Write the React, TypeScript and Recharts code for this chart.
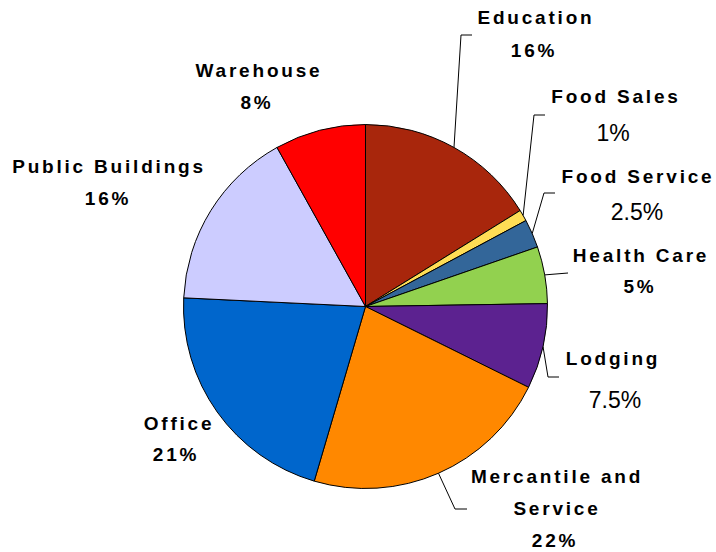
import { PieChart, Pie, Cell } from "recharts";

const categories = [
    "Education",
    "Food Sales",
    "Food Service",
    "Health Care",
    "Lodging",
    "Mercantile and Service",
    "Office",
    "Public Buildings",
    "Warehouse",
];

const shares = [16, 1, 2.5, 5, 7.5, 22, 21, 16, 8];

const pctLabels = ["16%", "1%", "2.5%", "5%", "7.5%", "22%", "21%", "16%", "8%"];

const COLORS = [
    "#A8260C", // Education
    "#FFDD55", // Food Sales
    "#336699", // Food Service
    "#92D14F", // Health Care
    "#5C2290", // Lodging
    "#FF8800", // Mercantile and Service
    "#0066CC", // Office
    "#CCCCFF", // Public Buildings
    "#FF0000", // Warehouse
];

const data = categories.map((name, i) => ({ name, value: shares[i] }));

// label layout: text lines (x center, baseline y), whether the % is bold, leader elbow
type Layout = {
    lines: { text: string; x: number; y: number }[];
    pct: { x: number; y: number; bold: boolean };
    leader?: number[][];
};

const LAYOUT: Layout[] = [
    { lines: [{ text: "Education", x: 536, y: 24 }], pct: { x: 534, y: 57, bold: true }, leader: [[461, 35], [472, 35]] },
    { lines: [{ text: "Food Sales", x: 616, y: 103 }], pct: { x: 613, y: 141, bold: false }, leader: [[534, 115], [545, 115]] },
    { lines: [{ text: "Food Service", x: 638, y: 183 }], pct: { x: 637, y: 220, bold: false }, leader: [[544, 193], [555, 193]] },
    { lines: [{ text: "Health Care", x: 641, y: 262 }], pct: { x: 640, y: 293, bold: true }, leader: [[568, 273]] },
    { lines: [{ text: "Lodging", x: 613, y: 365 }], pct: { x: 615, y: 408, bold: false }, leader: [[548, 377], [559, 377]] },
    {
        lines: [
            { text: "Mercantile and", x: 557, y: 483 },
            { text: "Service", x: 557, y: 515 },
        ],
        pct: { x: 555, y: 547, bold: true },
        leader: [[455, 509], [467, 509]],
    },
    { lines: [{ text: "Office", x: 179, y: 430 }], pct: { x: 176, y: 461, bold: true } },
    { lines: [{ text: "Public Buildings", x: 109, y: 173 }], pct: { x: 108, y: 205, bold: true } },
    { lines: [{ text: "Warehouse", x: 259, y: 77 }], pct: { x: 257, y: 109, bold: true } },
];

const FONT = "'Liberation Sans', Arial, sans-serif";

const renderLabel = (props: any) => {
    const { cx, cy, midAngle, outerRadius, index } = props;
    const RADIAN = Math.PI / 180;
    const layout = LAYOUT[index];
    const ax = cx + outerRadius * Math.cos(-midAngle * RADIAN);
    const ay = cy + outerRadius * Math.sin(-midAngle * RADIAN);
    const pts = layout.leader ? [[ax, ay], ...layout.leader] : null;
    return (
        <g>
            {pts && (
                <polyline
                    points={pts.map((p) => p.join(",")).join(" ")}
                    fill="none"
                    stroke="#000"
                    strokeWidth={1}
                />
            )}
            {layout.lines.map((l, i) => (
                <text
                    key={i}
                    x={l.x}
                    y={l.y}
                    textAnchor="middle"
                    fontFamily={FONT}
                    fontWeight="bold"
                    fontSize={19}
                    letterSpacing={2.8}
                    fill="#000"
                >
                    {l.text}
                </text>
            ))}
            <text
                x={layout.pct.x}
                y={layout.pct.y}
                textAnchor="middle"
                fontFamily={FONT}
                fontWeight={layout.pct.bold ? "bold" : "normal"}
                fontSize={layout.pct.bold ? 19 : 23}
                letterSpacing={layout.pct.bold ? 2.8 : 0}
                fill="#000"
            >
                {pctLabels[index]}
            </text>
        </g>
    );
};

const App = () => {
    return (
        <div style={{ position: "absolute", left: 0, top: 0, background: "#fff" }}>
            <PieChart width={716} height={552} margin={{ top: 0, right: 0, bottom: 0, left: 0 }}>
                <Pie
                    data={data}
                    dataKey="value"
                    nameKey="name"
                    cx={365.5}
                    cy={306.5}
                    outerRadius={182}
                    startAngle={90}
                    endAngle={-270}
                    stroke="#000"
                    strokeWidth={1}
                    labelLine={false}
                    label={renderLabel}
                    isAnimationActive={false}
                >
                    {data.map((entry, index) => (
                        <Cell key={`cell-${index}`} fill={COLORS[index % COLORS.length]} />
                    ))}
                </Pie>
            </PieChart>
        </div>
    );
};

export default App;
